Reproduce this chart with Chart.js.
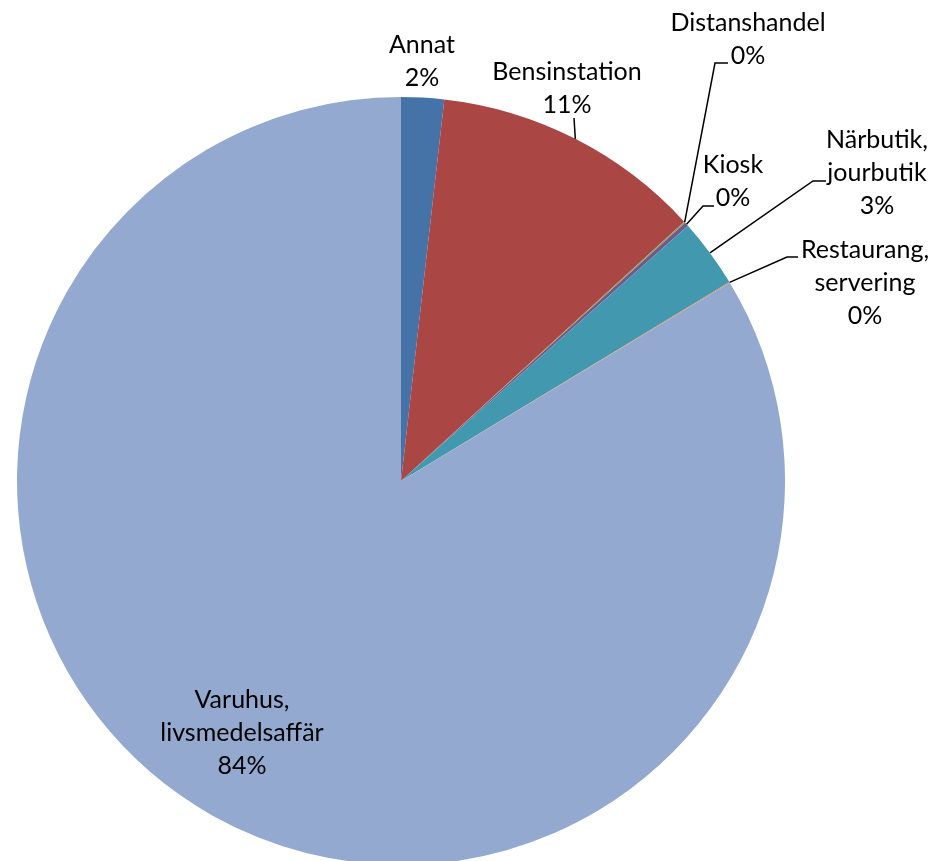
<!DOCTYPE html>
<html>
<head>
<meta charset="utf-8">
<script src="https://cdn.jsdelivr.net/npm/chart.js@4.4.1/dist/chart.umd.min.js"></script>
<style>
  html, body { margin: 0; padding: 0; background: #fff; overflow: hidden; }
  #wrap { width: 935px; height: 861px; overflow: hidden; }
</style>
</head>
<body>
<div id="wrap"><canvas id="pie-chart" width="935" height="870"></canvas></div>
<script>
// Kategorier (rader i etiketten)
const categories = [
    ['Annat'],
    ['Bensinstation'],
    ['Distanshandel'],
    ['Kiosk'],
    ['Närbutik,', 'jourbutik'],
    ['Restaurang,', 'servering'],
    ['Varuhus,', 'livsmedelsaffär']
];

// Andel i procent
const shares = [1.8, 11.4, 0.06, 0.17, 2.9, 0.03, 83.64];

const sliceColors = ['#4572A7', '#AA4643', '#89A54E', '#71588F', '#4198AF', '#DB843D', '#93A9CF'];

// Placering av etiketter: textens mitt (första raden), knäpunkt och slut för ledlinjen
const labelLayout = [
    { x: 422, y: 45 },
    { x: 567, y: 72, elbow: [574, 118] },
    { x: 748, y: 23, elbow: [715, 63], end: 728 },
    { x: 733, y: 165, elbow: [703, 206], end: 714 },
    { x: 877, y: 140, elbow: [813, 181], end: 826 },
    { x: 865, y: 250, elbow: [787, 257], end: 798 },
    { x: 242, y: 700 }
];

const total = shares.reduce((a, b) => a + b, 0);

const pieLabels = {
    id: 'pieLabels',
    afterDatasetsDraw(chart) {
        const ctx = chart.ctx;
        const arcs = chart.getDatasetMeta(0).data;
        ctx.save();
        ctx.strokeStyle = '#000';
        ctx.lineWidth = 1.5;
        ctx.fillStyle = '#000';
        ctx.font = '25px Lato';
        ctx.textAlign = 'center';
        ctx.textBaseline = 'middle';

        arcs.forEach((arc, i) => {
            const lay = labelLayout[i];
            // ledlinje från bågens mitt
            if (lay.elbow) {
                const mid = (arc.startAngle + arc.endAngle) / 2;
                const px = arc.x + Math.cos(mid) * arc.outerRadius;
                const py = arc.y + Math.sin(mid) * arc.outerRadius;
                ctx.beginPath();
                ctx.moveTo(px, py);
                ctx.lineTo(lay.elbow[0], lay.elbow[1]);
                if (lay.end) ctx.lineTo(lay.end, lay.elbow[1]);
                ctx.stroke();
            }
            const lines = categories[i].concat([Math.round(shares[i] / total * 100) + '%']);
            lines.forEach((t, k) => {
                ctx.fillText(t, lay.x, lay.y + k * 33);
            });
        });
        ctx.restore();
    }
};

const config = {
    type: 'pie',
    data: {
        labels: categories.map(c => c.join(' ')),
        datasets: [{
            data: shares,
            backgroundColor: sliceColors,
            borderWidth: 0
        }]
    },
    options: {
        responsive: false,
        animation: false,
        devicePixelRatio: 1,
        layout: {
            padding: { left: 17, right: 150, top: 97, bottom: 5 }
        },
        plugins: {
            legend: { display: false },
            tooltip: { enabled: false }
        }
    },
    plugins: [pieLabels]
};

const ctx = document.getElementById('pie-chart').getContext('2d');
new Chart(ctx, config);
</script>
</body>
</html>
